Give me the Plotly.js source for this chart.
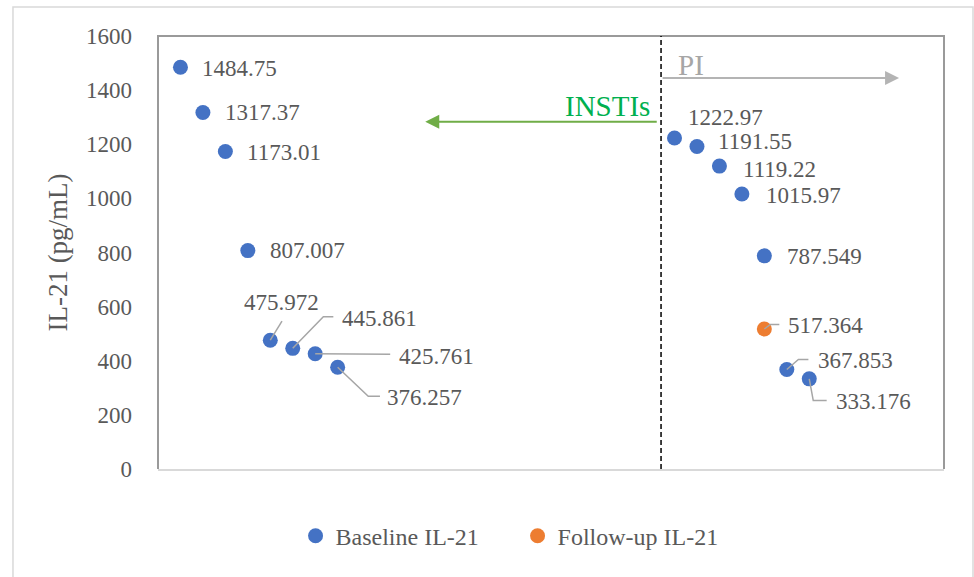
<!DOCTYPE html>
<html>
<head>
<meta charset="utf-8">
<script src="https://cdn.plot.ly/plotly-3.0.1.min.js"></script>
<style>html,body{margin:0;padding:0;background:#fff;}#chart{width:974px;height:577px;}</style>
</head>
<body>
<div id="chart"></div>
<script>
// ---- data ----
const baselineX = [1, 2, 3, 4, 5, 6, 7, 8, 23, 24, 25, 26, 27, 28, 29];
const baselineIL21 = [1484.75, 1317.37, 1173.01, 807.007, 475.972, 445.861, 425.761, 376.257,
                      1222.97, 1191.55, 1119.22, 1015.97, 787.549, 367.853, 333.176];
const followupX = [27];
const followupIL21 = [517.364];
const seriesNames = ["Baseline IL-21", "Follow-up IL-21"];
const yTicks = [0, 200, 400, 600, 800, 1000, 1200, 1400, 1600];
const groupDivider = 22.4;

// ---- label placement (pixel offsets from point; image dy positive = down) ----
const baseLabelStyle = [
  {dx: 20, dy: 1},
  {dx: 20, dy: 0.5},
  {dx: 20, dy: 1},
  {dx: 20, dy: 0},
  {dx: 11, dy: -38, anchor: 'center', leader: [[11.7, -19]]},
  {dx: 47, dy: -30, leader: [[30.6, -31.7], [40.6, -31.7]]},
  {dx: 82, dy: 2.5, leader: [[75, 0.5]]},
  {dx: 47, dy: 30, leader: [[30.6, 29], [42.3, 29]]},
  {dx: 11, dy: -21},
  {dx: 19, dy: -5},
  {dx: 22, dy: 3.3},
  {dx: 22, dy: 1},
  {dx: 21, dy: 1},
  {dx: 29, dy: -9, leader: [[11.6, -10], [21.6, -10]]},
  {dx: 25, dy: 22.7, leader: [[4, 21.7], [17.4, 21.7]]}
];
const followLabelStyle = [
  {dx: 21.5, dy: -3.3, leader: [[6, -4.5], [15, -4.5]]}
];

const FONT = "'Liberation Serif', 'Times New Roman', serif";
const GREY = '#595959';
const BLUE = '#4472C4';
const ORANGE = '#ED7D31';

const traces = [
  {x: baselineX, y: baselineIL21, type: 'scatter', mode: 'markers', name: seriesNames[0],
   marker: {color: BLUE, size: 15}},
  {x: followupX, y: followupIL21, type: 'scatter', mode: 'markers', name: seriesNames[1],
   marker: {color: ORANGE, size: 15}}
];

const annotations = [];
const shapes = [];
function addLabels(xs, ys, styles) {
  xs.forEach((x, i) => {
    const s = styles[i];
    annotations.push({
      x: x, y: ys[i], xref: 'x', yref: 'y', text: String(ys[i]), showarrow: false,
      xanchor: s.anchor || 'left', yanchor: 'middle', xshift: s.dx, yshift: -s.dy,
      font: {family: FONT, size: 23, color: GREY}
    });
    if (s.leader) {
      let p = 'M0,0';
      s.leader.forEach(pt => { p += ' L' + pt[0] + ',' + (-pt[1]); });
      shapes.push({type: 'path', xref: 'x', yref: 'y', xsizemode: 'pixel', ysizemode: 'pixel',
        xanchor: x, yanchor: ys[i], path: p, line: {color: '#A6A6A6', width: 1.5}, layer: 'above'});
    }
  });
}
addLabels(baselineX, baselineIL21, baseLabelStyle);
addLabels(followupX, followupIL21, followLabelStyle);

// group arrows and texts
annotations.push({x: 11.9, y: 1283, xref: 'x', yref: 'y', ax: 233, ay: 0, text: '',
  showarrow: true, arrowhead: 2, arrowsize: 1.4, arrowwidth: 2, arrowcolor: '#70AD47', standoff: 0});
annotations.push({x: 22.0, y: 1340, xref: 'x', yref: 'y', text: 'INSTIs', showarrow: false,
  xanchor: 'right', yanchor: 'middle', font: {family: FONT, size: 29, color: '#00B050'}});
annotations.push({x: 33.0, y: 1445, xref: 'x', yref: 'y', ax: -238, ay: 0, text: '',
  showarrow: true, arrowhead: 2, arrowsize: 1.4, arrowwidth: 2, arrowcolor: '#B4B4B4', standoff: 0});
annotations.push({x: 23.05, y: 1493, xref: 'x', yref: 'y', text: 'PI', showarrow: false,
  xanchor: 'left', yanchor: 'middle', font: {family: FONT, size: 29, color: '#A6A6A6'}});

// divider
shapes.push({type: 'line', xref: 'x', yref: 'paper', x0: groupDivider, x1: groupDivider, y0: 0, y1: 1,
  line: {color: '#000', width: 1.5, dash: '5px,3px'}});
// plot border (top, left, right)
shapes.push({type: 'path', xref: 'paper', yref: 'paper', path: 'M0,0 L0,1 L1,1 L1,0',
  line: {color: '#9A9A9A', width: 2}, layer: 'below'});
// outer chart frame
shapes.push({type: 'rect', xref: 'paper', yref: 'paper', x0: -0.1845, x1: 1.0369, y0: -0.32, y1: 1.067,
  line: {color: '#D9D9D9', width: 1.5}, layer: 'below'});

const layout = {
  width: 974, height: 577,
  margin: {l: 158, r: 30, t: 36, b: 108},
  paper_bgcolor: '#fff', plot_bgcolor: '#fff',
  font: {family: FONT, color: GREY},
  xaxis: {range: [0, 35], showticklabels: false, ticks: '', showgrid: false, zeroline: false,
    showline: true, linecolor: '#D9D9D9', linewidth: 2, fixedrange: true},
  yaxis: {range: [0, 1600], tickvals: yTicks, ticks: '', showgrid: false, zeroline: false,
    showline: false, ticklabelstandoff: 25, tickfont: {family: FONT, size: 23, color: GREY},
    title: {text: 'IL-21 (pg/mL)', font: {family: FONT, size: 27, color: GREY}, standoff: 10}},
  showlegend: true,
  legend: {orientation: 'h', x: 0.175, xanchor: 'left', y: -0.155, yanchor: 'middle',
    font: {family: FONT, size: 24, color: GREY}, entrywidth: 177, itemwidth: 30},
  annotations: annotations,
  shapes: shapes
};

Plotly.newPlot('chart', traces, layout, {displayModeBar: false, staticPlot: true});
</script>
</body>
</html>
